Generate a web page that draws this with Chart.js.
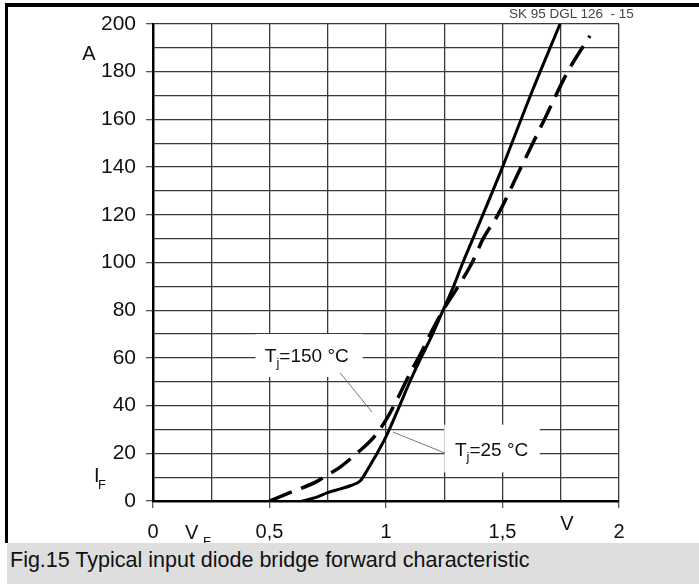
<!DOCTYPE html>
<html>
<head>
<meta charset="utf-8">
<script src="https://cdn.jsdelivr.net/npm/chart.js@4.4.1/dist/chart.umd.min.js"></script>
<style>
  body { margin: 0; background: #fff; }
  #wrap { position: relative; width: 699px; height: 584px; overflow: hidden; font-family: 'Liberation Sans', Arial, sans-serif; }
  #frame { position: absolute; left: 5px; top: 3px; width: 694px; height: 540px; border-top: 4px solid #000; border-left: 3px solid #000; box-sizing: border-box; pointer-events: none; }
  #code { position: absolute; left: 509px; top: 6px; font-size: 13.5px; color: #444; }
  #caption { position: absolute; left: 7px; top: 543px; right: 0; height: 41px; background: #dedede; font-size: 21.5px; line-height: 35px; padding-left: 3px; color: #111; }
  canvas { position: absolute; left: 0; top: 0; }
</style>
</head>
<body>
<div id="wrap">
  <canvas id="chart" width="699" height="584"></canvas>
  <div id="frame"></div>
  <div id="code">SK 95 DGL 126 &nbsp;- 15</div>
  <div id="caption">Fig.15 Typical input diode bridge forward characteristic</div>
</div>
<script>
// Data
const vf25 = [0.64, 0.70, 0.75, 0.80, 0.85, 0.89, 0.92, 0.95, 1.00, 1.05, 1.10, 1.15, 1.20, 1.245, 1.29, 1.33, 1.373, 1.50, 1.62, 1.747];
const if25 = [0, 1.5, 3.5, 5, 6.5, 8.5, 13, 18, 27, 38, 49.5, 60, 70, 80, 90, 100, 110, 140, 170, 200];

const vf150 = [0.50, 0.60, 0.70, 0.75, 0.80, 0.875, 0.95, 1.00, 1.05, 1.10, 1.15, 1.19, 1.245, 1.31, 1.37, 1.417, 1.48, 1.58, 1.68, 1.78, 1.875];
const if150 = [0, 4, 8, 11, 14, 20, 27, 34, 43, 53, 62, 70, 80, 90, 100, 110, 120, 140, 160, 180, 195];

const xTickLabels = ['0', '0,5', '1', '1,5', '2'];
const yTickLabels = ['0', '20', '40', '60', '80', '100', '120', '140', '160', '180', '200'];

// Annotation boxes and leaders, in data units
const label150 = { text: 'T', sub: 'j', rest: '=150 \u00b0C', v: 0.48, a: 58.3, box: [0.44, 0.90, 52, 70], leader: [0.803, 53.7, 0.94, 37.3] };
const label25 = { text: 'T', sub: 'j', rest: '=25 \u00b0C', v: 1.296, a: 19, box: [1.25, 1.66, 12, 32], leader: [1.03, 28.9, 1.253, 20.1] };

const FONT = "'Liberation Sans', Arial, sans-serif";

function toPts(xs, ys) {
    return xs.map((x, i) => ({ x: x, y: ys[i] }));
}

const annotations = {
    id: 'annotations',
    beforeDatasetsDraw(chart) {
        const { ctx, scales: { x, y } } = chart;
        ctx.save();
        ctx.fillStyle = '#fff';
        [label150, label25].forEach(l => {
            const [v0, v1, a0, a1] = l.box;
            ctx.fillRect(x.getPixelForValue(v0), y.getPixelForValue(a1), x.getPixelForValue(v1) - x.getPixelForValue(v0), y.getPixelForValue(a0) - y.getPixelForValue(a1));
        });
        ctx.restore();
    },
    afterDatasetsDraw(chart) {
        const { ctx, scales: { x, y }, chartArea } = chart;
        ctx.save();
        ctx.fillStyle = '#111';
        ctx.textBaseline = 'alphabetic';

        [label150, label25].forEach(l => {
            let px = x.getPixelForValue(l.v);
            const py = y.getPixelForValue(l.a);
            ctx.font = '19px ' + FONT;
            ctx.fillText(l.text, px, py);
            px += ctx.measureText(l.text).width;
            ctx.font = '13px ' + FONT;
            ctx.fillText(l.sub, px, py + 5);
            px += ctx.measureText(l.sub).width;
            ctx.font = '19px ' + FONT;
            ctx.fillText(l.rest, px, py);

            const [v0, a0, v1, a1] = l.leader;
            ctx.strokeStyle = '#555';
            ctx.lineWidth = 0.8;
            ctx.beginPath();
            ctx.moveTo(x.getPixelForValue(v0), y.getPixelForValue(a0));
            ctx.lineTo(x.getPixelForValue(v1), y.getPixelForValue(a1));
            ctx.stroke();
        });

        // axis titles
        ctx.font = '20px ' + FONT;
        ctx.textAlign = 'center';
        ctx.fillText('A', chartArea.left - 64, y.getPixelForValue(185));
        ctx.fillText('V', x.getPixelForValue(1.777), chartArea.bottom + 29);

        ctx.textAlign = 'left';
        ctx.fillText('I', chartArea.left - 59, y.getPixelForValue(8));
        ctx.fillText('V', chartArea.left + 32, chartArea.bottom + 38);
        ctx.font = '13px ' + FONT;
        ctx.fillText('F', chartArea.left - 55, y.getPixelForValue(8) + 7);
        ctx.fillText('F', chartArea.left + 50, chartArea.bottom + 45);
        ctx.restore();
    }
};

const ctx = document.getElementById('chart').getContext('2d');

new Chart(ctx, {
    type: 'scatter',
    data: {
        datasets: [
            {
                label: 'Tj=25°C',
                data: toPts(vf25, if25),
                showLine: true,
                borderColor: '#000',
                borderWidth: 3,
                pointRadius: 0,
                cubicInterpolationMode: 'monotone'
            },
            {
                label: 'Tj=150°C',
                data: toPts(vf150, if150),
                showLine: true,
                borderColor: '#000',
                borderWidth: 3.5,
                borderDash: [24, 10],
                pointRadius: 0,
                cubicInterpolationMode: 'monotone'
            }
        ]
    },
    options: {
        responsive: false,
        animation: false,
        events: [],
        layout: { padding: { top: 24, right: 80, left: 0, bottom: 41 } },
        plugins: {
            legend: { display: false },
            tooltip: { enabled: false }
        },
        scales: {
            x: {
                type: 'linear',
                min: 0,
                max: 2,
                afterFit: s => { s.height = 42; },
                border: { display: true, color: '#000', width: 2.5 },
                grid: {
                    color: '#3a3a3a',
                    lineWidth: 1.3,
                    tickLength: 7,
                    tickColor: c => (Math.round(c.tick.value * 4) % 2 === 0 ? '#555' : 'rgba(0,0,0,0)')
                },
                ticks: {
                    stepSize: 0.25,
                    autoSkip: false,
                    maxRotation: 0,
                    padding: 12,
                    color: '#111',
                    font: { family: FONT, size: 20 },
                    callback: v => (Math.round(v * 4) % 2 === 0 ? xTickLabels[Math.round(v * 2)] : '')
                }
            },
            y: {
                type: 'linear',
                min: 0,
                max: 200,
                afterFit: s => { s.width = 153; },
                border: { display: true, color: '#000', width: 2.5 },
                grid: {
                    color: '#3a3a3a',
                    lineWidth: 1.3,
                    tickLength: 7,
                    tickColor: c => (Math.round(c.tick.value) % 20 === 0 ? '#555' : 'rgba(0,0,0,0)')
                },
                ticks: {
                    stepSize: 10,
                    autoSkip: false,
                    padding: 10,
                    color: '#111',
                    font: { family: FONT, size: 21 },
                    callback: v => (Math.round(v) % 20 === 0 ? yTickLabels[Math.round(v / 20)] : '')
                }
            }
        }
    },
    plugins: [annotations]
});
</script>
</body>
</html>
